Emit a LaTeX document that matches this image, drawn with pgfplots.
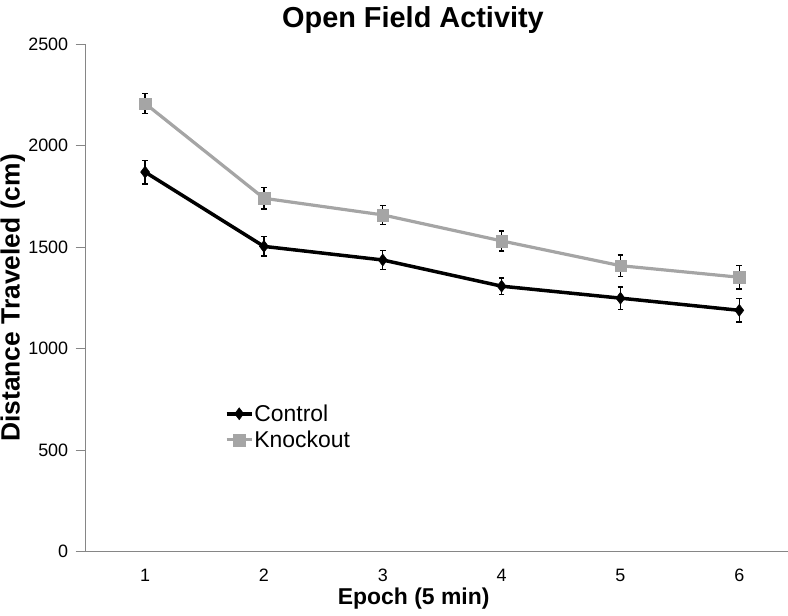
\documentclass[border=0pt]{standalone}
\usepackage{fontspec}
\setmainfont{Liberation Sans}
\usepackage{pgfplots}
\pgfplotsset{compat=1.18}
\definecolor{axisgray}{HTML}{868686}
\definecolor{kogray}{HTML}{A5A5A5}
\begin{document}
\begin{tikzpicture}
\begin{axis}[
  scale only axis,
  width=702.3bp, height=507.5bp,
  xmin=0.5, xmax=6.41,
  ymin=0, ymax=2500,
  axis lines=left,
  axis line style={-, draw=axisgray, line width=1.3bp},
  xtick={1,2,3,4,5,6},
  ytick={0,500,1000,1500,2000,2500},
  xtick style={draw=none},
  ytick style={draw=axisgray, line width=1.3bp},
  tick align=outside,
  major tick length=10bp,
  /pgf/number format/assume math mode=true,
  /pgf/number format/1000 sep={},
  tick label style={font=\fontsize{18}{21}\selectfont},
  x tick label style={yshift=-4bp},
  y tick label style={xshift=-4bp},
  xlabel={\textbf{Epoch (5 min)}},
  ylabel={\textbf{Distance Traveled (cm)}},
  xlabel style={font=\fontsize{23}{26}\selectfont, at={(axis description cs:0.467,0)}, anchor=center, yshift=-47bp},
  ylabel style={font=\fontsize{26.5}{30}\selectfont, at={(axis description cs:0,0.5)}, anchor=center, yshift=73bp},
  title={\textbf{Open Field Activity}},
  title style={font=\fontsize{29}{32}\selectfont, at={(axis description cs:0.466,1)}, anchor=center, yshift=18bp},
  legend style={at={(axis description cs:0.198,0.292)}, anchor=north west, draw=none, fill=none, inner sep=0pt,
    font=\fontsize{23}{27}\selectfont, row sep=6bp, nodes={inner sep=1bp}},
  legend cell align=left,
  legend image code/.code={\draw[mark repeat=2, mark phase=2] plot coordinates {(0bp,0bp) (12.5bp,0bp) (25bp,0bp)};},
  clip=false,
]
\addplot[black, line width=3.5bp, mark=diamond*, mark size=6bp, mark options={solid, fill=black, line width=0.5bp},
  error bars/.cd, y dir=both, y explicit,
  error bar style={black, line width=1.3bp},
  error mark options={rotate=90, black, mark size=2.8bp, line width=1.3bp}]
  coordinates {
  (1,1870) +- (0,58)
  (2,1504) +- (0,47)
  (3,1437) +- (0,48)
  (4,1308) +- (0,41)
  (5,1249) +- (0,55)
  (6,1189) +- (0,58)
};
\addlegendentry{Control}
\addplot[kogray, line width=3.2bp, mark=square*, mark size=5.8bp, mark options={solid, fill=kogray, draw=kogray, line width=0.3bp},
  error bars/.cd, y dir=both, y explicit,
  error bar style={black, line width=1.3bp},
  error mark options={rotate=90, black, mark size=2.8bp, line width=1.3bp}]
  coordinates {
  (1,2208) +- (0,50)
  (2,1741) +- (0,53)
  (3,1659) +- (0,47)
  (4,1531) +- (0,49)
  (5,1409) +- (0,52)
  (6,1352) +- (0,58)
};
\addlegendentry{Knockout}
\end{axis}
\pgfresetboundingbox
\useasboundingbox (-85.7bp,-64.3bp) rectangle (702.3bp,551.7bp);
\end{tikzpicture}
\end{document}
